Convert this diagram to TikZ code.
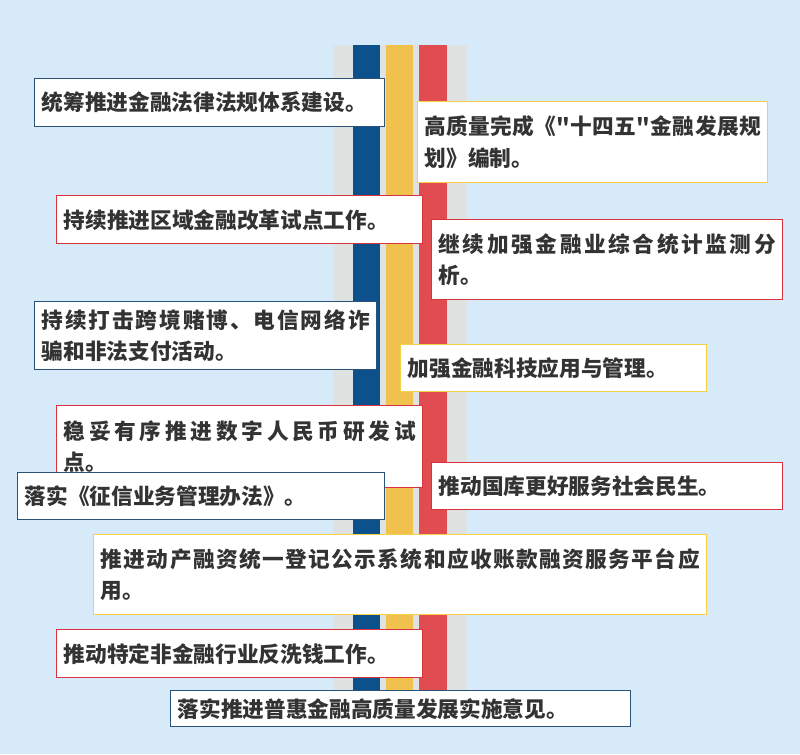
\documentclass[tikz,border=0pt]{standalone}
\usepackage{fontspec}
\newfontfamily\cjk{Noto Sans CJK SC}
\usetikzlibrary{positioning}

\definecolor{bgblue}{RGB}{214,234,250}
\definecolor{stripegray}{RGB}{222,227,226}
\definecolor{stripeblue}{RGB}{12,80,140}
\definecolor{stripeyellow}{RGB}{240,194,77}
\definecolor{stripered}{RGB}{224,76,80}
\definecolor{navyline}{RGB}{43,82,120}
\definecolor{yellowline}{RGB}{249,207,69}
\definecolor{redline}{RGB}{217,50,63}
\definecolor{textgray}{RGB}{51,51,51}

% spread the characters of a first line over the whole text width
\def\spreadchars#1{#1\spreadnext}
\def\spreadnext#1{\ifx\relax#1\else\hfil#1\expandafter\spreadnext\fi}
\newcommand\firstline[1]{\makebox[\hsize][s]{\spreadchars#1\relax}}

\begin{document}
\begin{tikzpicture}[x=0.75pt, y=-0.75pt,
    txt/.style={font=\cjk\bfseries\fontsize{16.25pt}{23.5pt}\selectfont, text=textgray},
    card/.style n args={3}{
        draw=#1, fill=white, line width=1.1pt, anchor=north west,
        inner xsep=5.25pt, inner ysep=0pt, align=left,
        minimum width={#2*0.75pt}, minimum height={#3*0.75pt},
        text width={(#2-14)*0.75pt}, txt
    }
]
    % background and the four stripes
    \fill[bgblue] (0,0) rectangle (800,754);
    \fill[stripegray] (333,45) rectangle (467,715);
    \fill[stripeblue] (353,45) rectangle (380,715);
    \fill[stripeyellow] (386,45) rectangle (413,715);
    \fill[stripered] (419,45) rectangle (447,715);

    % the cards, top to bottom
    \node[card={navyline}{350}{48}] (law) at (34,78) {统筹推进金融法律法规体系建设。};
    \node[card={yellowline}{350}{81}] (plan) at (417,101)
        {\firstline{高质量完成《"十四五"金融发展规}\\划》编制。};
    \node[card={redline}{366}{48}] (reform) at (56,195) {持续推进区域金融改革试点工作。};
    \node[card={redline}{351}{80}] (stats) at (431,219)
        {\firstline{继续加强金融业综合统计监测分}\\析。};
    \node[card={navyline}{342}{68}] (fraud) at (34,301)
        {\firstline{持续打击跨境赌博、电信网络诈}\\骗和非法支付活动。};
    \node[card={yellowline}{306}{47}] (fintech) at (400,344) {加强金融科技应用与管理。};
    \node[card={redline}{366}{82}] (ecny) at (56,405)
        {\firstline{稳妥有序推进数字人民币研发试}\\点。};
    \node[card={navyline}{367}{47}] (credit) at (17,472) {落实《征信业务管理办法》。};
    \node[card={redline}{351}{47}] (treasury) at (431,462) {推动国库更好服务社会民生。};
    \node[card={yellowline}{613}{80}] (registry) at (93,534)
        {\firstline{推进动产融资统一登记公示系统和应收账款融资服务平台应}\\用。};
    \node[card={redline}{366}{48}] (aml) at (56,629) {推动特定非金融行业反洗钱工作。};
    \node[card={navyline}{460}{36}] (inclusive) at (170,690) {落实推进普惠金融高质量发展实施意见。};
\end{tikzpicture}
\end{document}
